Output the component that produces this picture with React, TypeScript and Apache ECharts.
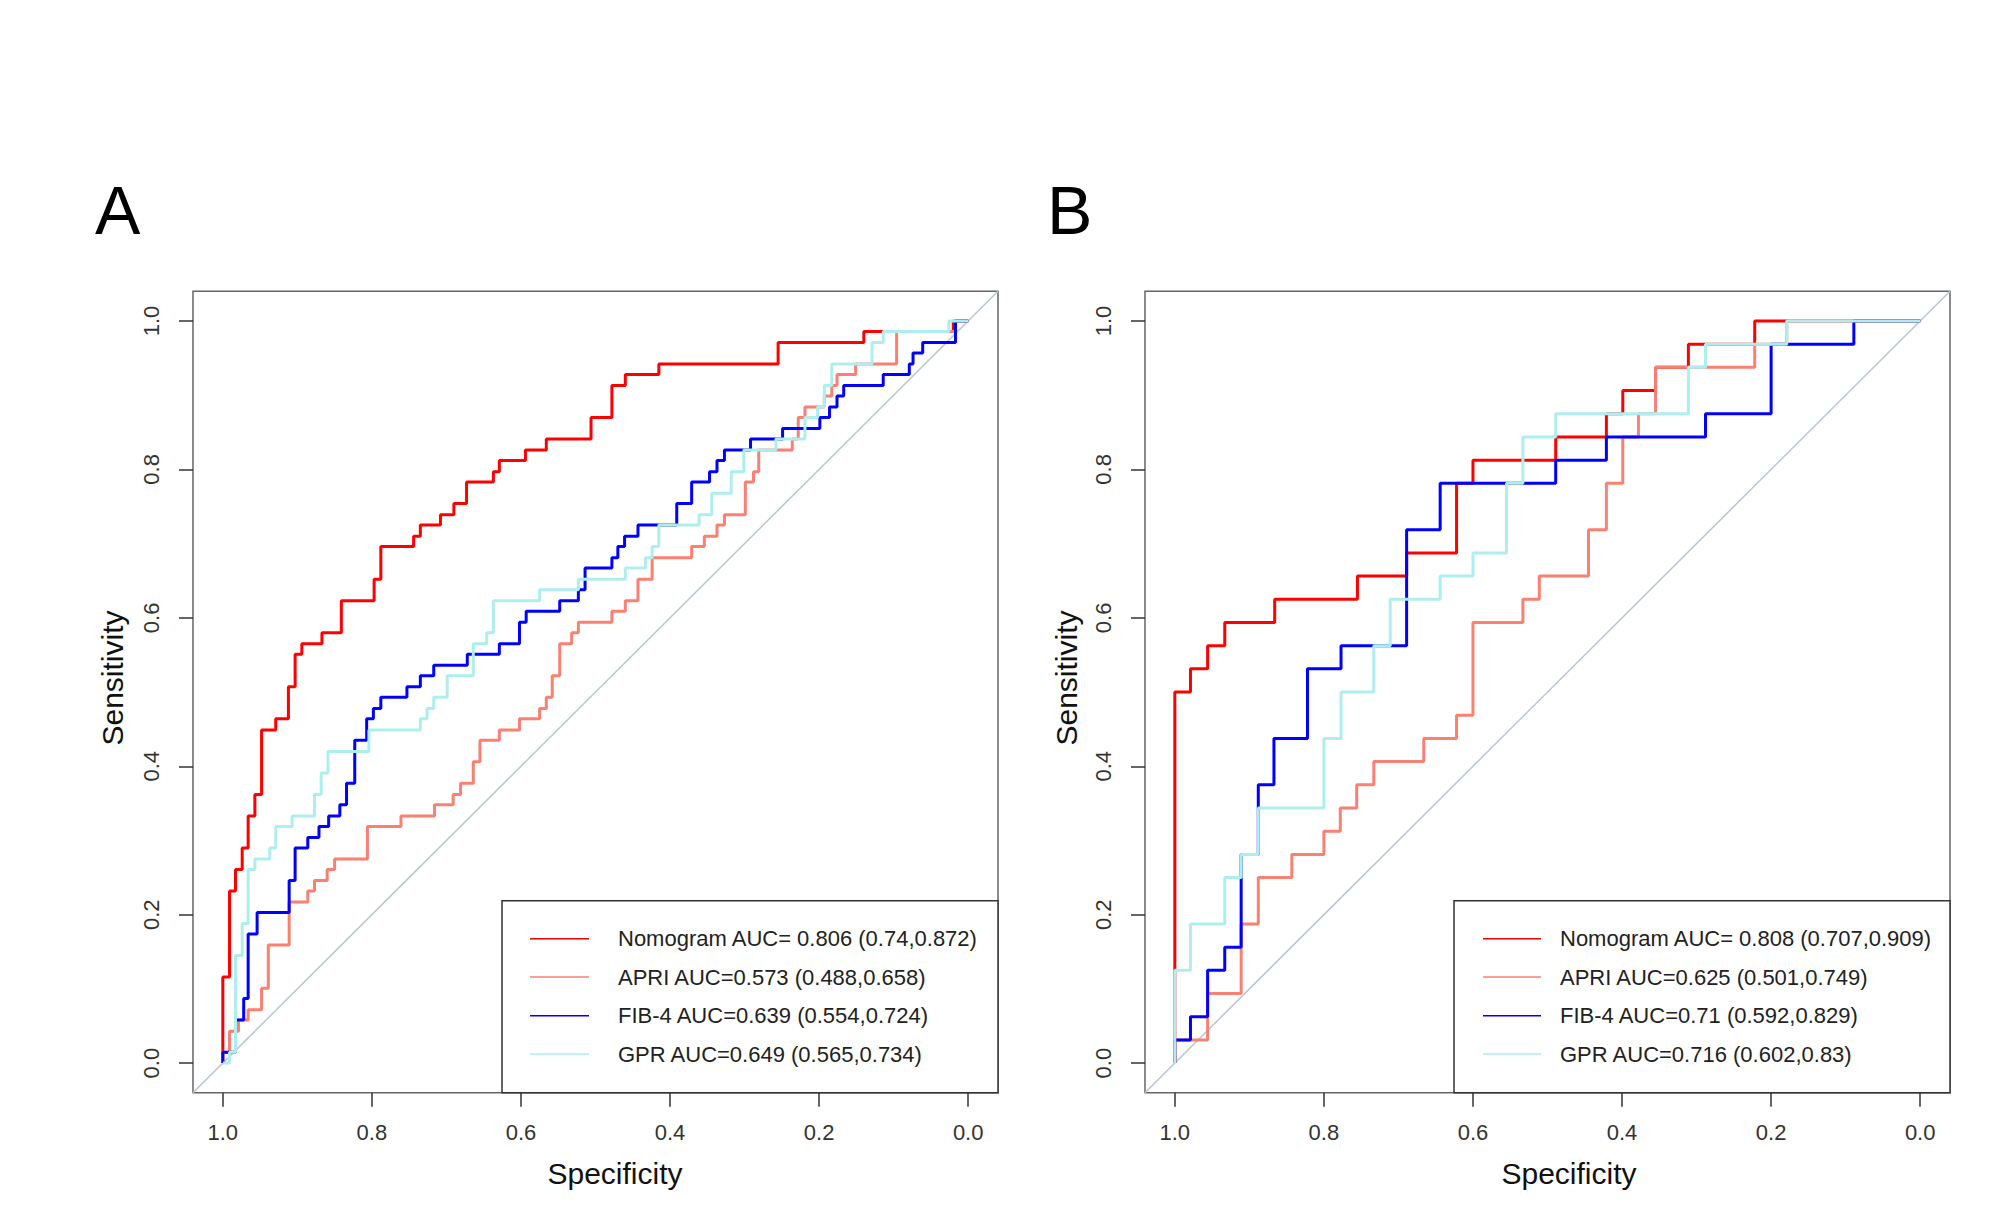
import React, { useEffect, useRef } from "react";
import * as echarts from "echarts";

// ---------- data ----------
const TICK_VALUES = [0, 0.2, 0.4, 0.6, 0.8, 1.0];
const TICK_LABELS = ["0.0", "0.2", "0.4", "0.6", "0.8", "1.0"];

const SERIES_NAMES = ["Nomogram", "APRI", "FIB-4", "GPR"];
const LEGEND_A = [
  "Nomogram AUC= 0.806 (0.74,0.872)",
  "APRI AUC=0.573 (0.488,0.658)",
  "FIB-4 AUC=0.639 (0.554,0.724)",
  "GPR AUC=0.649 (0.565,0.734)",
];
const LEGEND_B = [
  "Nomogram AUC= 0.808 (0.707,0.909)",
  "APRI AUC=0.625 (0.501,0.749)",
  "FIB-4 AUC=0.71 (0.592,0.829)",
  "GPR AUC=0.716 (0.602,0.83)",
];

// Each curve: spec[i] = specificity where rise i happens, sens[i] = level before that rise.
// Panel A
const A_NOM_SPEC = [1.0, 0.991, 0.983, 0.974, 0.966, 0.957, 0.948, 0.929, 0.912, 0.903, 0.894, 0.867, 0.841, 0.797, 0.788, 0.744, 0.735, 0.708, 0.69, 0.673, 0.637, 0.629, 0.594, 0.566, 0.506, 0.478, 0.46, 0.415, 0.255, 0.14, 0.02, 0.0];
const A_NOM_SENS = [0.0, 0.116, 0.232, 0.261, 0.29, 0.333, 0.362, 0.449, 0.464, 0.507, 0.551, 0.565, 0.58, 0.623, 0.652, 0.696, 0.71, 0.725, 0.739, 0.754, 0.783, 0.797, 0.812, 0.826, 0.841, 0.87, 0.913, 0.928, 0.942, 0.971, 0.986, 1.0];

const A_APRI_SPEC = [1.0, 0.991, 0.979, 0.966, 0.948, 0.939, 0.911, 0.886, 0.877, 0.86, 0.85, 0.806, 0.761, 0.716, 0.691, 0.681, 0.664, 0.655, 0.629, 0.602, 0.575, 0.566, 0.558, 0.548, 0.532, 0.523, 0.478, 0.46, 0.443, 0.424, 0.371, 0.354, 0.337, 0.327, 0.299, 0.288, 0.281, 0.236, 0.228, 0.219, 0.193, 0.183, 0.176, 0.151, 0.096, 0.017, 0.0];
const A_APRI_SENS = [0.0, 0.0145, 0.043, 0.058, 0.072, 0.101, 0.159, 0.217, 0.232, 0.246, 0.261, 0.275, 0.319, 0.333, 0.348, 0.362, 0.377, 0.406, 0.435, 0.449, 0.464, 0.478, 0.493, 0.522, 0.565, 0.58, 0.594, 0.609, 0.623, 0.652, 0.681, 0.696, 0.71, 0.725, 0.739, 0.783, 0.797, 0.826, 0.841, 0.87, 0.884, 0.899, 0.913, 0.928, 0.942, 0.986, 1.0];

const A_FIB_SPEC = [1.0, 0.983, 0.972, 0.966, 0.954, 0.911, 0.903, 0.886, 0.871, 0.858, 0.843, 0.834, 0.823, 0.807, 0.798, 0.788, 0.753, 0.735, 0.717, 0.672, 0.629, 0.602, 0.593, 0.548, 0.523, 0.514, 0.478, 0.47, 0.461, 0.443, 0.391, 0.371, 0.347, 0.337, 0.327, 0.292, 0.249, 0.199, 0.186, 0.176, 0.167, 0.114, 0.079, 0.074, 0.061, 0.017, 0.0];
const A_FIB_SENS = [0.0, 0.0145, 0.058, 0.087, 0.174, 0.203, 0.246, 0.29, 0.304, 0.319, 0.333, 0.348, 0.377, 0.435, 0.464, 0.478, 0.493, 0.507, 0.522, 0.536, 0.551, 0.565, 0.594, 0.609, 0.623, 0.638, 0.667, 0.681, 0.696, 0.71, 0.725, 0.754, 0.783, 0.797, 0.812, 0.826, 0.841, 0.855, 0.87, 0.884, 0.899, 0.913, 0.928, 0.942, 0.957, 0.971, 1.0];

const A_GPR_SPEC = [1.0, 0.991, 0.983, 0.974, 0.966, 0.957, 0.937, 0.929, 0.907, 0.877, 0.868, 0.859, 0.804, 0.735, 0.726, 0.717, 0.699, 0.664, 0.646, 0.637, 0.575, 0.523, 0.46, 0.433, 0.424, 0.415, 0.361, 0.344, 0.318, 0.301, 0.258, 0.219, 0.202, 0.193, 0.183, 0.129, 0.114, 0.026, 0.0];
const A_GPR_SENS = [0.0, 0.0, 0.0145, 0.145, 0.188, 0.261, 0.275, 0.29, 0.319, 0.333, 0.362, 0.391, 0.42, 0.449, 0.464, 0.478, 0.493, 0.522, 0.565, 0.58, 0.623, 0.638, 0.652, 0.667, 0.681, 0.696, 0.725, 0.739, 0.768, 0.797, 0.826, 0.841, 0.87, 0.884, 0.913, 0.942, 0.971, 0.986, 1.0];

// Panel B
const B_NOM_SPEC = [1.0, 0.979, 0.956, 0.933, 0.866, 0.755, 0.689, 0.622, 0.6, 0.489, 0.421, 0.399, 0.355, 0.311, 0.222, 0.0];
const B_NOM_SENS = [0.0, 0.5, 0.53125, 0.5625, 0.59375, 0.625, 0.65625, 0.6875, 0.78125, 0.8125, 0.84375, 0.875, 0.90625, 0.9375, 0.96875, 1.0];

const B_APRI_SPEC = [1.0, 0.956, 0.911, 0.888, 0.843, 0.8, 0.778, 0.756, 0.733, 0.666, 0.622, 0.6, 0.533, 0.511, 0.445, 0.421, 0.399, 0.378, 0.355, 0.222, 0.179, 0.0];
const B_APRI_SENS = [0.0, 0.03125, 0.09375, 0.1875, 0.25, 0.28125, 0.3125, 0.34375, 0.375, 0.40625, 0.4375, 0.46875, 0.59375, 0.625, 0.65625, 0.71875, 0.78125, 0.84375, 0.875, 0.9375, 0.96875, 1.0];

const B_FIB_SPEC = [1.0, 0.979, 0.956, 0.933, 0.911, 0.888, 0.867, 0.822, 0.777, 0.689, 0.644, 0.489, 0.421, 0.288, 0.2, 0.089, 0.0];
const B_FIB_SENS = [0.0, 0.03125, 0.0625, 0.125, 0.15625, 0.28125, 0.375, 0.4375, 0.53125, 0.5625, 0.71875, 0.78125, 0.8125, 0.84375, 0.875, 0.96875, 1.0];

const B_GPR_SPEC = [1.0, 0.979, 0.933, 0.911, 0.888, 0.8, 0.777, 0.733, 0.711, 0.644, 0.6, 0.555, 0.533, 0.489, 0.311, 0.288, 0.179, 0.0];
const B_GPR_SENS = [0.0, 0.125, 0.1875, 0.25, 0.28125, 0.34375, 0.4375, 0.5, 0.5625, 0.625, 0.65625, 0.6875, 0.78125, 0.84375, 0.875, 0.9375, 0.96875, 1.0];

const CURVES_A = [
  [A_NOM_SPEC, A_NOM_SENS],
  [A_APRI_SPEC, A_APRI_SENS],
  [A_FIB_SPEC, A_FIB_SENS],
  [A_GPR_SPEC, A_GPR_SENS],
];
const CURVES_B = [
  [B_NOM_SPEC, B_NOM_SENS],
  [B_APRI_SPEC, B_APRI_SENS],
  [B_FIB_SPEC, B_FIB_SENS],
  [B_GPR_SPEC, B_GPR_SENS],
];

// ---------- styles ----------
const COLORS = ["#FF0000", "#FA8072", "#0000FF", "#AFEEEE"];
const FONT = "'Liberation Sans', Arial, Helvetica, sans-serif";
const AXIS_MIN = -0.04;
const AXIS_MAX = 1.04;

const PANELS = [
  { left: 193, letter: "A", letterX: 95, yTitleX: 112, xTitleX: 615, legendLeft: 502, lineX1: 530, lineX2: 589, textX: 618, legend: LEGEND_A, curves: CURVES_A },
  { left: 1145, letter: "B", letterX: 1047, yTitleX: 1066, xTitleX: 1569, legendLeft: 1454, lineX1: 1483, lineX2: 1541, textX: 1560, legend: LEGEND_B, curves: CURVES_B },
];
const GRID_TOP = 291.3;
const GRID_W = 805;
const GRID_H = 801.5;
const LEGEND_TOP = 900.7;
const LEGEND_ROWS = [938.7, 977, 1015.7, 1054];

function buildOption() {
  const grid: any[] = [];
  const xAxis: any[] = [];
  const yAxis: any[] = [];
  const series: any[] = [];
  const graphic: any[] = [];

  PANELS.forEach((p, gi) => {
    grid.push({
      left: p.left,
      top: GRID_TOP,
      width: GRID_W,
      height: GRID_H,
      show: true,
      borderColor: "#666",
      borderWidth: 1.5,
      backgroundColor: "transparent",
    });
    const common = {
      type: "value",
      gridIndex: gi,
      min: AXIS_MIN,
      max: AXIS_MAX,
      axisLine: { show: false, onZero: false },
      splitLine: { show: false },
      axisTick: {
        show: true,
        inside: false,
        length: 14,
        customValues: TICK_VALUES,
        lineStyle: { color: "#333", width: 1.5 },
      },
    };
    xAxis.push({
      ...common,
      position: "bottom",
      inverse: true,
      axisLabel: {
        show: true,
        customValues: TICK_VALUES,
        formatter: (v: number) => TICK_LABELS[Math.round(v * 5)] ?? "",
        margin: 29,
        fontSize: 22,
        color: "#333",
        fontFamily: FONT,
      },
    });
    yAxis.push({
      ...common,
      position: "left",
      axisLabel: {
        show: true,
        customValues: TICK_VALUES,
        formatter: (v: number) => TICK_LABELS[Math.round(v * 5)] ?? "",
        rotate: 90,
        margin: 31,
        fontSize: 22,
        color: "#333",
        fontFamily: FONT,
      },
    });

    // reference diagonal
    series.push({
      type: "line",
      xAxisIndex: gi,
      yAxisIndex: gi,
      data: [
        [AXIS_MAX, AXIS_MIN],
        [AXIS_MIN, AXIS_MAX],
      ],
      symbol: "none",
      silent: true,
      lineStyle: { color: "#B6C7CF", width: 1.5 },
      z: 1,
    });

    p.curves.forEach((c, k) => {
      const [spec, sens] = c;
      series.push({
        type: "line",
        name: `${p.letter} ${SERIES_NAMES[k]}`,
        xAxisIndex: gi,
        yAxisIndex: gi,
        data: spec.map((s, i) => [s, sens[i]]),
        step: "start",
        symbol: "none",
        silent: true,
        lineStyle: { color: COLORS[k], width: 3 },
        itemStyle: { color: COLORS[k] },
        z: 2 + k,
      });
    });

    // panel letter
    graphic.push({
      type: "text",
      x: p.letterX,
      y: 210,
      style: { text: p.letter, fontSize: 68, fontFamily: FONT, fill: "#000", align: "left", verticalAlign: "middle" },
    });
    // axis titles
    graphic.push({
      type: "text",
      x: p.xTitleX,
      y: 1173,
      style: { text: "Specificity", fontSize: 30, fontFamily: FONT, fill: "#111", align: "center", verticalAlign: "middle" },
    });
    graphic.push({
      type: "text",
      x: p.yTitleX,
      y: 678,
      rotation: Math.PI / 2,
      style: { text: "Sensitivity", fontSize: 30, fontFamily: FONT, fill: "#111", align: "center", verticalAlign: "middle" },
    });
    // legend box
    graphic.push({
      type: "rect",
      z: 100,
      shape: { x: p.legendLeft, y: LEGEND_TOP, width: p.left + GRID_W - p.legendLeft, height: GRID_TOP + GRID_H - LEGEND_TOP },
      style: { fill: "#fff", stroke: "#333", lineWidth: 1.5 },
    });
    p.legend.forEach((label, k) => {
      graphic.push({
        type: "line",
        z: 101,
        shape: { x1: p.lineX1, y1: LEGEND_ROWS[k], x2: p.lineX2, y2: LEGEND_ROWS[k] },
        style: { stroke: COLORS[k], lineWidth: 1.5 },
      });
      graphic.push({
        type: "text",
        z: 101,
        x: p.textX,
        y: LEGEND_ROWS[k],
        style: { text: label, fontSize: 22, fontFamily: FONT, fill: "#222", align: "left", verticalAlign: "middle" },
      });
    });
  });

  return {
    animation: false,
    backgroundColor: "#fff",
    textStyle: { fontFamily: FONT },
    grid,
    xAxis,
    yAxis,
    series,
    graphic,
  };
}

export default function App() {
  const ref = useRef<HTMLDivElement>(null);
  useEffect(() => {
    if (!ref.current) return;
    const chart = echarts.init(ref.current, undefined, { renderer: "svg" });
    chart.setOption(buildOption() as any);
    return () => chart.dispose();
  }, []);
  return (
    <div
      ref={ref}
      style={{ position: "absolute", left: 0, top: 0, width: 2008, height: 1205, background: "#fff" }}
    />
  );
}
